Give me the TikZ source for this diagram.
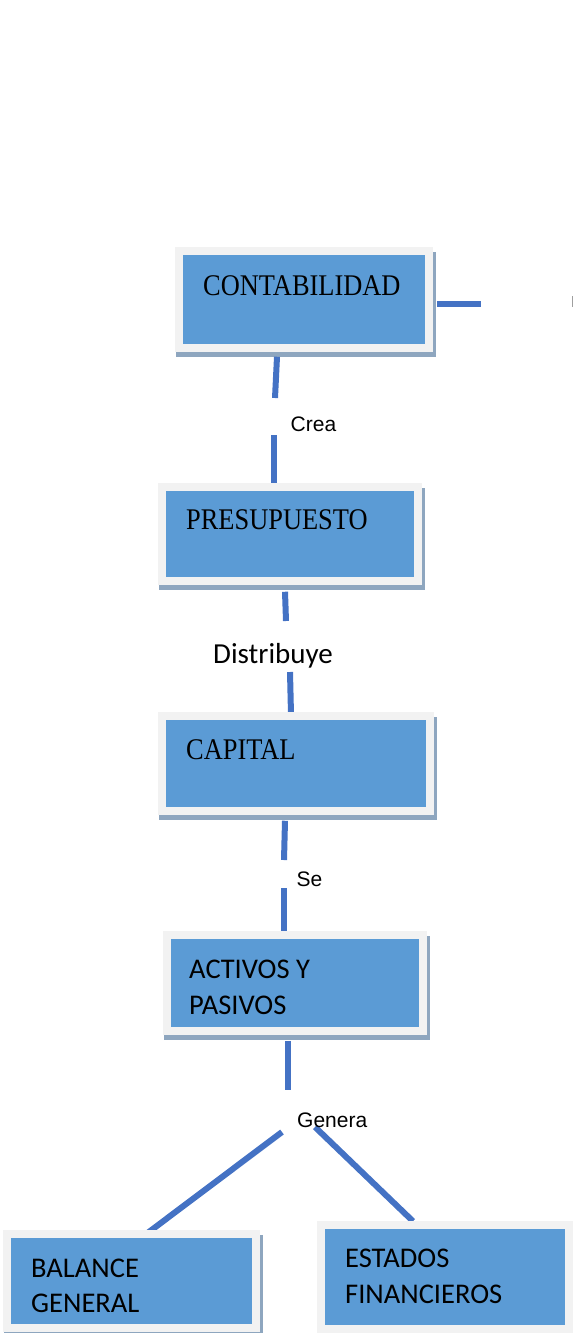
\documentclass[tikz,border=0pt]{standalone}
\usepackage{fontspec}
\usetikzlibrary{calc,backgrounds}
\newfontfamily\titlefont[FakeStretch=0.88]{Liberation Serif}
\newfontfamily\calfont{Carlito}
\newfontfamily\labelfont{Liberation Sans}
\definecolor{boxblue}{HTML}{5B9BD5}
\definecolor{boxframe}{HTML}{F2F2F2}
\definecolor{boxshadow}{HTML}{8EA6BF}
\definecolor{linkblue}{HTML}{4472C4}
\tikzset{
  card/.style={fill=boxblue, draw=boxframe, line width=7.5pt, inner sep=0pt},
  cardshadow/.style={fill=boxshadow},
  conn/.style={draw=linkblue, line width=6pt, line cap=butt},
  serifname/.style={anchor=base west, inner sep=0pt, font=\titlefont\fontsize{30}{36}\selectfont},
  sansname/.style={anchor=base west, inner sep=0pt, font=\calfont\fontsize{28.5}{36}\selectfont},
  linklabel/.style={anchor=base west, inner sep=0pt, font=\labelfont\fontsize{21}{25}\selectfont},
  linklabelcal/.style={anchor=base west, inner sep=0pt, font=\calfont\fontsize{29}{34}\selectfont},
}
\begin{document}
\begin{tikzpicture}[x=1pt,y=-1pt]
\useasboundingbox (0,0) rectangle (573,1333);

% boxes (anchors sit on the outer edge of the light frame)
\node[card, minimum width=250pt, minimum height=97pt]  (conta)   at (304,299.5) {};
\node[card, minimum width=256pt, minimum height=94pt]  (presup)  at (290,534) {};
\node[card, minimum width=268pt, minimum height=95pt]  (capital) at (296,763.5) {};
\node[card, minimum width=256pt, minimum height=96pt]  (activos) at (295,983) {};
\node[card, minimum width=249pt, minimum height=94pt]  (balance) at (131.5,1281) {};
\node[card, minimum width=248pt, minimum height=104pt] (estados) at (445,1277) {};

% box titles
\node[serifname] (tconta)   at (203,295)   {CONTABILIDAD};
\node[serifname] (tpresup)  at (186,529.3) {PRESUPUESTO};
\node[serifname] (tcapital) at (186,759.3) {CAPITAL};
\node[sansname]  (tact1)    at (189,978)   {ACTIVOS Y};
\node[sansname]  (tact2)    at (189,1014)  {PASIVOS};
\node[sansname]  (tbal1)    at (31,1277)   {BALANCE};
\node[sansname]  (tbal2)    at (31,1312)   {GENERAL};
\node[sansname]  (test1)    at (345,1267)  {ESTADOS};
\node[sansname]  (test2)    at (345,1303)  {FINANCIEROS};

% connector labels
\node[linklabel]    (crea)   at (290.5,431)  {Crea};
\node[linklabelcal] (distr)  at (213,663)    {Distribuye};
\node[linklabel]    (se)     at (296.5,886.5){Se};
\node[linklabel]    (genera) at (297,1127)   {Genera};

% free ends of the connectors
\coordinate (contaEnd) at (481,304);
\coordinate (creaTop)  at (275,398);
\coordinate (creaBot)  at (274,435);
\coordinate (distTop)  at (286,621);
\coordinate (distBot)  at (290,672);
\coordinate (seTop)    at (284,860);
\coordinate (seBot)    at (284,888);
\coordinate (genTop)   at (288,1090);
\coordinate (genLeft)  at (282,1132);
\coordinate (genRight) at (315,1127);

\begin{scope}[on background layer]
  % drop shadows, offset to the lower right
  \foreach \b in {conta,presup,capital,activos,balance}{
    \fill[cardshadow] ($(\b.north west)+(1,5)$) rectangle ($(\b.south east)+(3,5.5)$);
  }
  % connectors
  \draw[conn] ($(conta.east)+(4,4.5)$) -- (contaEnd);
  \draw[conn] ($(conta.south)+(-27,5)$) -- (creaTop);
  \draw[conn] (creaBot) -- ($(presup.north)+(-16,2)$);
  \draw[conn] ($(presup.south)+(-5,7)$) -- (distTop);
  \draw[conn] (distBot) -- ($(capital.north)+(-5,2)$);
  \draw[conn] ($(capital.south)+(-11,6)$) -- (seTop);
  \draw[conn] (seBot) -- ($(activos.north)+(-11,2)$);
  \draw[conn] ($(activos.south)+(-7,6)$) -- (genTop);
  \draw[conn] (genLeft) -- ($(balance.north)+(17,2)$);
  \draw[conn] (genRight) -- ($(estados.north)+(-32,0)$);
\end{scope}

% clipped glyph at the right edge
\fill[gray!75] (571.5,296) rectangle (573,307);
\end{tikzpicture}
\end{document}
